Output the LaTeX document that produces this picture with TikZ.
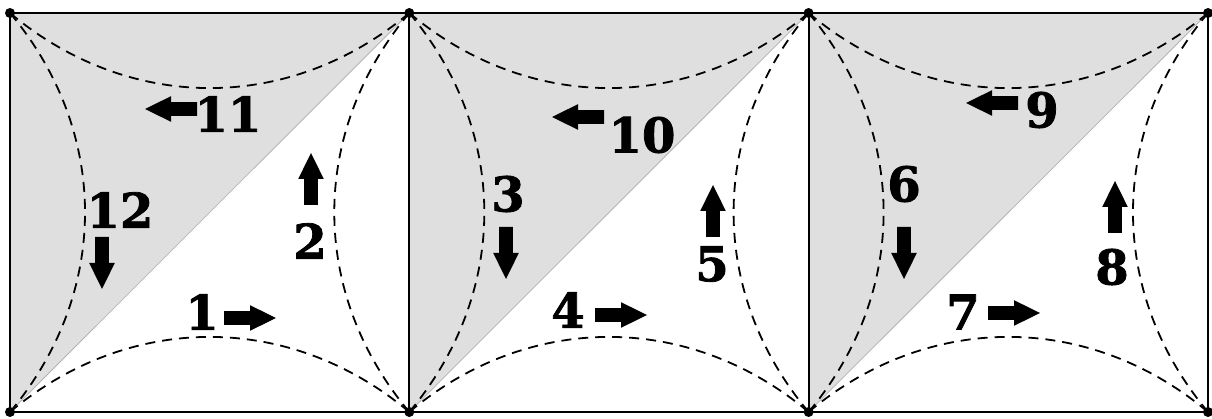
\documentclass[tikz,border=0pt]{standalone}
\usepackage{fontspec}
\setmainfont{DejaVu Serif}
\newfontfamily\numfont{DejaVu Serif Bold}[FakeBold=1.6]
\usetikzlibrary{arrows.meta}
\definecolor{cellGray}{HTML}{DFDFDF}
\definecolor{diagGray}{HTML}{B4B4B4}

\tikzset{
  blockarrow/.pic={
    \fill (0,-6.8) -- (26,-6.8) -- (26,-12.8) -- (52,0)
          -- (26,12.8) -- (26,6.8) -- (0,6.8) -- cycle;
  },
}

\begin{document}
\begin{tikzpicture}[
  x=1pt, y=-1pt,
  frame/.style={draw=black, line width=2pt},
  route/.style={dash pattern=on 10pt off 7pt, line width=1.8pt},
  num/.style={font=\numfont\fontsize{48}{48}\selectfont, inner sep=0pt},
  corner/.style={circle, fill=black, inner sep=0pt, minimum size=10pt},
]
\useasboundingbox (0,0) rectangle (1212,419);

% corners of the three squares
\foreach \i/\x in {0/10, 1/409.3, 2/808.6, 3/1208} {
  \coordinate (t\i) at (\x,13);
  \coordinate (b\i) at (\x,412);
}

% ======================= cells ==========================================
\foreach \k/\j in {0/1, 1/2, 2/3} {
  \fill[cellGray] (t\k) -- (t\j) -- (b\k) -- cycle;
  \draw[diagGray, line width=0.8pt] (b\k) -- (t\j);
  \draw[route] (t\k) to[bend right=40] (t\j);
  \draw[route] (b\k) to[bend left=40] (b\j);
  \draw[route] (t\k) to[bend left=40] (b\k);
  \draw[route] (t\j) to[bend right=40] (b\j);
}

% frame and corner dots
\draw[frame] (t0) -- (t3) (b0) -- (b3);
\foreach \i in {0,1,2,3} {
  \draw[frame] (t\i) -- (b\i);
  \node[corner] (dt\i) at (t\i) {};
  \node[corner] (db\i) at (b\i) {};
}

% ======================= numbers ========================================
\foreach \n/\x/\y in {1/202/312, 2/310/241, 11/228/114, 12/120/210,
                      3/508/194, 4/568/310, 5/712/264, 10/642/135,
                      6/904/184, 7/963/312, 8/1112/267, 9/1042/110} {
  \node[num] (n\n) at (\x,\y) {\n};
}

% ======================= arrows =========================================
\foreach \x/\y/\r in {197/109/180, 102/237/-90, 311/205/90, 224/318/0,
                      604/117/180, 506/227/-90, 713/237/90, 595/315/0,
                      1018/103/180, 904/227/-90, 1115/233/90, 988/313/0} {
  \pic[rotate=\r] at (\x,\y) {blockarrow};
}
\end{tikzpicture}
\end{document}
